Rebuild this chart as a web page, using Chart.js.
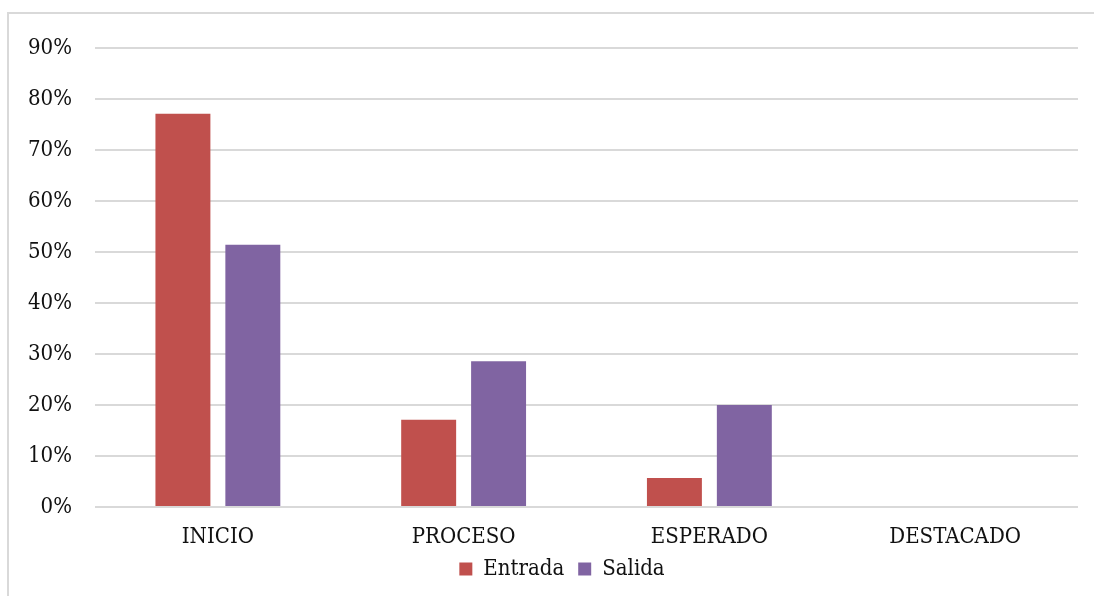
<!DOCTYPE html>
<html>
<head>
<meta charset="utf-8">
<script src="https://cdn.jsdelivr.net/npm/chart.js@4/dist/chart.umd.min.js"></script>
<style>
  html, body { margin: 0; padding: 0; background: #fff; overflow: hidden; }
  .frame {
    position: absolute; left: 7px; top: 12px;
    width: 2000px; height: 2000px;
    border: 2px solid #d9d9d9;
  }
  .wrap { position: absolute; left: 0; top: 0; width: 1094px; height: 596px; }
</style>
</head>
<body>
<div class="frame"></div>
<div class="wrap"><canvas id="barChart"></canvas></div>
<script>
// ===== Data =====
const categories = ["INICIO", "PROCESO", "ESPERADO", "DESTACADO"];
const entrada = [77.1, 17.1, 5.7, 0];
const salida = [51.4, 28.6, 20.0, 0];
const yTicks = [0, 10, 20, 30, 40, 50, 60, 70, 80, 90];

const FONT = "'DejaVu Serif Condensed', 'Liberation Serif', serif";

// the original legend sits a bit right of the canvas centre
const legendShift = {
  id: "legendShift",
  afterLayout(chart) {
    chart.legend.left += 23;
    chart.legend.right += 23;
  },
};

new Chart(document.getElementById("barChart").getContext("2d"), {
  type: "bar",
  data: {
    labels: categories,
    datasets: [
      { label: "Entrada", data: entrada, backgroundColor: "#c0504d" },
      { label: "Salida", data: salida, backgroundColor: "#8064a2" },
    ],
  },
  plugins: [legendShift],
  options: {
    responsive: true,
    maintainAspectRatio: false,
    animation: false,
    categoryPercentage: 0.569,
    barPercentage: 0.786,
    layout: { padding: { top: 48, right: 16, left: 0, bottom: 6 } },
    plugins: {
      tooltip: { enabled: false },
      legend: {
        position: "bottom",
        labels: {
          color: "#111",
          font: { family: FONT, size: 22 },
          boxWidth: 13,
          boxHeight: 13,
          padding: 14,
        },
      },
    },
    scales: {
      x: {
        grid: { display: false, drawTicks: false },
        border: { display: false },
        ticks: { color: "#111", font: { family: FONT, size: 22 }, padding: 17, maxRotation: 0 },
        afterFit: (s) => { s.height = 37; },
      },
      y: {
        min: 0,
        max: 90,
        afterBuildTicks: (s) => { s.ticks = yTicks.map((v) => ({ value: v })); },
        grid: { color: "#d9d9d9", lineWidth: 2, drawTicks: false },
        border: { display: false },
        ticks: {
          color: "#111",
          font: { family: FONT, size: 22 },
          padding: 23,
          callback: (v) => v + "%",
        },
        afterFit: (s) => { s.width = 95; },
      },
    },
  },
});
</script>
</body>
</html>
